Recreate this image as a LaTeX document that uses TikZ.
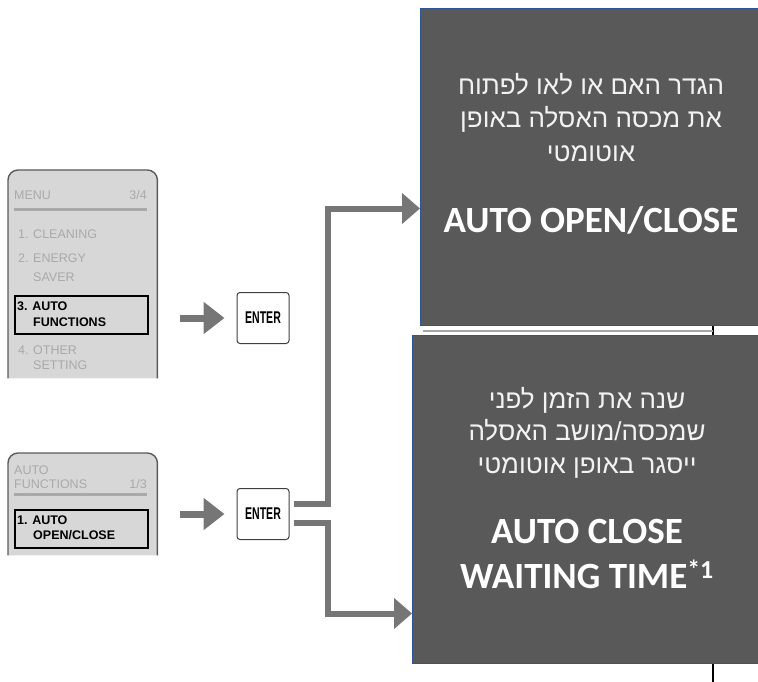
\documentclass[tikz,border=0pt]{standalone}
\usepackage{fontspec}
\setmainfont{Liberation Sans}
\newfontfamily\hebfont[Script=Hebrew]{Liberation Sans}
\newfontfamily\calfont{Carlito}
\TeXXeTstate=1
\usetikzlibrary{arrows.meta, positioning}
\definecolor{boxgray}{HTML}{595959}
\definecolor{boxblue}{HTML}{2F5597}
\definecolor{pipegray}{HTML}{767676}
\definecolor{lcdgray}{HTML}{D7D7D7}
\definecolor{lcdtext}{HTML}{A9A9A9}
\definecolor{lcdframe}{HTML}{5A5A5A}

\begin{document}
\begin{tikzpicture}[
    x=1pt, y=-1pt,
    infobox/.style={rectangle, draw=boxblue, fill=boxgray, line width=1pt,
                    anchor=north west, inner sep=0pt},
    hebline/.style={anchor=base, text=white!95!black,
                    font=\hebfont\fontsize{26}{30}\selectfont},
    engline/.style={anchor=base, text=white,
                    font=\calfont\bfseries\fontsize{37}{42}\selectfont},
    enterkey/.style={rectangle, draw=black!75, fill=white, line width=1pt,
                     rounded corners=3pt, minimum width=52pt, minimum height=51pt,
                     inner sep=0pt, font=\bfseries\fontsize{17}{18}\selectfont},
    lcdarea/.style={rectangle, anchor=north west, minimum width=149pt, inner sep=0pt},
    lcdedge/.style={draw=lcdframe, fill=lcdgray, line width=1.4pt, rounded corners=10pt},
    lcditem/.style={anchor=base west, inner sep=0pt, text=lcdtext,
                    font=\fontsize{12.5}{13}\selectfont},
    lcdpick/.style={lcditem, text=black, font=\bfseries\fontsize{12.5}{13}\selectfont},
    lcdbar/.style={draw=lcdtext, line width=3pt},
    pickbox/.style={rectangle, draw=black, line width=2pt, anchor=north west,
                    minimum width=133pt, minimum height=38pt, inner sep=0pt},
    menuarrow/.style={-{Triangle[length=21pt, width=31pt]}, line width=7pt, pipegray},
    flowarrow/.style={-{Triangle[length=18pt, width=30pt]}, line width=6pt, pipegray},
  ]
  \useasboundingbox (0,0) rectangle (758,682);

  % first menu screen
  \node[lcdarea, minimum height=208pt] (menuA) at (8,170) {};
  \filldraw[lcdedge] (menuA.south west) -- (menuA.north west) -- (menuA.north east) -- (menuA.south east);
  \node[lcditem] (menuAtitle) at (14,200) {MENU};
  \node[lcditem, anchor=base east] (menuApage) at (147,200) {3/4};
  \coordinate (menuAbarL) at (14,209);
  \coordinate (menuAbarR) at (147,209);
  \draw[lcdbar] (menuAbarL) -- (menuAbarR);
  \node[lcditem] (itemclean) at (18,238) {1. CLEANING};
  \node[lcditem] (itemenergy) at (18,262) {2. ENERGY};
  \node[lcditem] (itemsaver) at (33,281) {SAVER};
  \node[pickbox] (pickA) at (14,295) {};
  \node[lcdpick] (itemauto) at (17,310) {3. AUTO};
  \node[lcdpick] (itemfunc) at (33,326) {FUNCTIONS};
  \node[lcditem] (itemother) at (18,354) {4. OTHER};
  \node[lcditem] (itemsetting) at (33,369) {SETTING};

  % second menu screen
  \node[lcdarea, minimum height=102pt] (menuB) at (8,453) {};
  \filldraw[lcdedge] (menuB.south west) -- (menuB.north west) -- (menuB.north east) -- (menuB.south east);
  \node[lcditem] (menuBtitleA) at (14,474) {AUTO};
  \node[lcditem] (menuBtitleB) at (14,488) {FUNCTIONS};
  \node[lcditem, anchor=base east] (menuBpage) at (147,488) {1/3};
  \coordinate (menuBbarL) at (14,494);
  \coordinate (menuBbarR) at (147,494);
  \draw[lcdbar] (menuBbarL) -- (menuBbarR);
  \node[pickbox] (pickB) at (14,509) {};
  \node[lcdpick] (itemopenA) at (17,524) {1. AUTO};
  \node[lcdpick] (itemopenB) at (33,539) {OPEN/CLOSE};

  % keys
  \node[enterkey] (enterA) at (263,318) {\scalebox{0.62}[1]{ENTER}};
  \node[enterkey] (enterB) at (263,514) {\scalebox{0.62}[1]{ENTER}};

  \draw[menuarrow, shorten <=23pt, shorten >=12pt] (menuA.east |- enterA) -- (enterA.west);
  \draw[menuarrow, shorten <=23pt, shorten >=12pt] (menuB.east |- enterB) -- (enterB.west);

  % line behind the boxes
  \coordinate (railtop) at (713,318);
  \coordinate (railend) at (713,682);
  \coordinate (shadeL) at (423,331);
  \draw[black, line width=1.2pt] (railtop) -- (railend);
  \draw[black!35, line width=1.5pt] (shadeL) -- (shadeL -| railtop);

  % result boxes
  \node[infobox, minimum width=338pt, minimum height=317pt] (openbox) at (420,8) {};
  \node[infobox, minimum width=346pt, minimum height=328pt] (closebox) at (412,335) {};

  \node[hebline] (openhebA) at (591,95) {\beginR הגדר האם או לאו לפתוח\endR};
  \node[hebline] (openhebB) at (591,128) {\beginR את מכסה האסלה באופן\endR};
  \node[hebline] (openhebC) at (591,161) {\beginR אוטומטי\endR};
  \node[engline] (opentitle) at (591,233) {AUTO OPEN/CLOSE};

  \node[hebline] (closehebA) at (587,408) {\beginR שנה את הזמן לפני\endR};
  \node[hebline] (closehebB) at (587,440) {\beginR שמכסה/מושב האסלה\endR};
  \node[hebline] (closehebC) at (587,473) {\beginR ייסגר באופן אוטומטי\endR};
  \node[engline] (closetitleA) at (587,543) {AUTO CLOSE};
  \node[engline] (closetitleB) at (587,588) {WAITING TIME\textsuperscript{*1}};

  \draw[flowarrow] ([xshift=4pt, yshift=10pt]enterB.east) -- ++(34,0) |- ([yshift=-41.5pt]openbox.west);
  \draw[flowarrow] ([xshift=4pt, yshift=-9pt]enterB.east) -- ++(34,0) |- ([yshift=-114pt]closebox.west);
\end{tikzpicture}
\end{document}
